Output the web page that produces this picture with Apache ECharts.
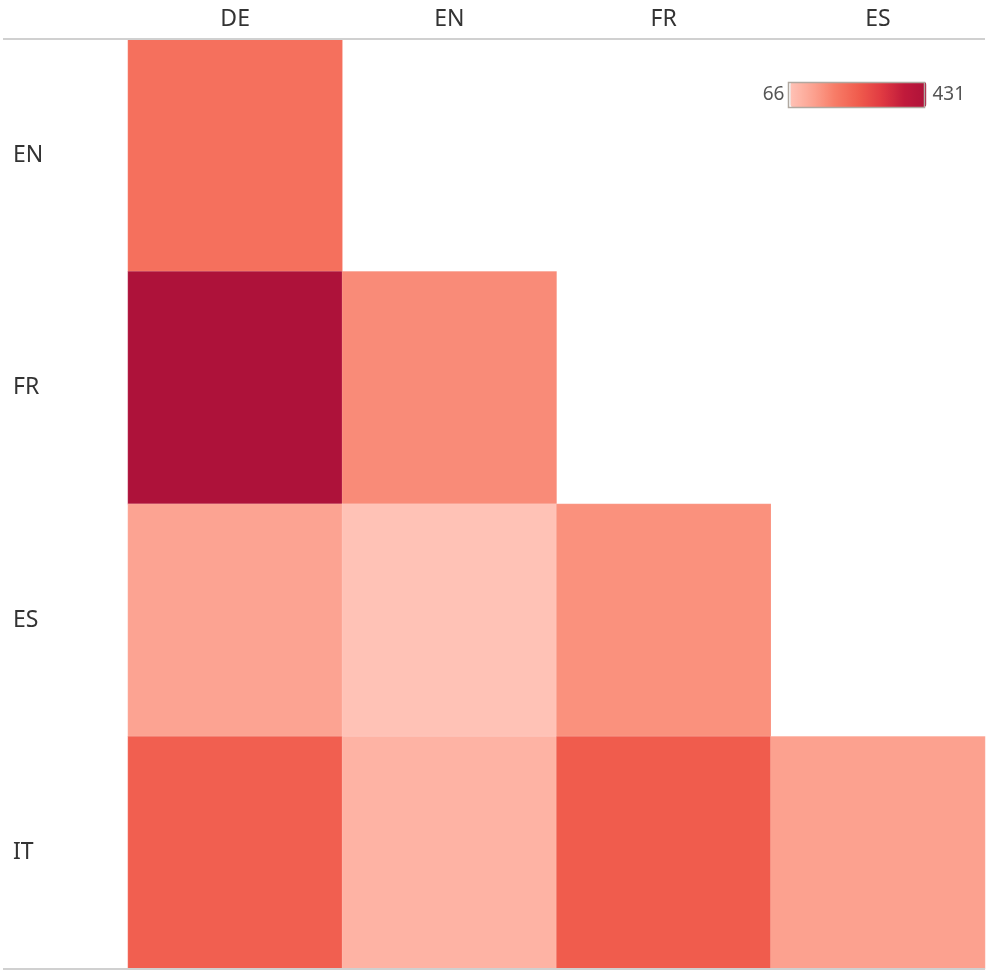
<!DOCTYPE html>
<html>
<head>
<meta charset="utf-8">
<script src="https://cdn.jsdelivr.net/npm/echarts@6/dist/echarts.min.js"></script>
<style>
  html, body { margin: 0; padding: 0; background: #fff; }
  #chart { width: 986px; height: 973px; }
</style>
</head>
<body>
<div id="chart"></div>
<script>
// columns (top) and rows (left)
const colLangs = ['DE', 'EN', 'FR', 'ES']
const rowLangs = ['EN', 'FR', 'ES', 'IT']

// one array per row, values per column (null = empty cell)
const rowEN = [209, null, null, null]
const rowFR = [431, 162, null, null]
const rowES = [124, 66, 154, null]
const rowIT = [242, 95, 248, 128]

const minVal = 66
const maxVal = 431

const rows = [rowEN, rowFR, rowES, rowIT]
const cells = []
rows.forEach((row, y) => {
    row.forEach((v, x) => {
        if (v !== null) cells.push([x, y, v])
    })
})

const chart = echarts.init(document.getElementById('chart'))

const font = '"Noto Sans", sans-serif'

const option = {
    animation: false,
    grid: { left: 128, right: 1, top: 39, bottom: 4 },
    xAxis: {
        type: 'category',
        position: 'top',
        data: colLangs,
        axisLine: { show: false },
        axisTick: { show: false },
        splitLine: { show: false },
        axisLabel: { color: '#333', fontSize: 23, fontFamily: font, margin: 8 }
    },
    yAxis: {
        type: 'category',
        inverse: true,
        data: rowLangs,
        axisLine: { show: false },
        axisTick: { show: false },
        splitLine: { show: false },
        axisLabel: { color: '#333', fontSize: 23, fontFamily: font, align: 'left', margin: 115 }
    },
    visualMap: {
        type: 'continuous',
        min: minVal,
        max: maxVal,
        orient: 'horizontal',
        calculable: false,
        right: 21,
        top: 82,
        padding: 0,
        itemWidth: 25,
        itemHeight: 136,
        text: [String(maxVal), String(minVal)],
        textGap: 6,
        textStyle: { color: '#555', fontSize: 19, fontFamily: font },
        inRange: {
            color: ['#ffc2b6', '#fca290', '#f77b66', '#f05c4d', '#e13b42', '#c11a3b', '#ae123a']
        }
    },
    graphic: [
        { type: 'line', shape: { x1: 3, y1: 39, x2: 985, y2: 39 }, style: { stroke: '#d0d0d0', lineWidth: 2 }, z: 10 },
        { type: 'line', shape: { x1: 3, y1: 969, x2: 985, y2: 969 }, style: { stroke: '#d0d0d0', lineWidth: 2 }, z: 10 },
        // frame around the colour bar
        { type: 'rect', shape: { x: 788.5, y: 82.5, width: 136, height: 25 }, style: { fill: null, stroke: '#b0a8a0', lineWidth: 1.5 }, z: 20 }
    ],
    series: [{
        type: 'heatmap',
        data: cells,
        itemStyle: { borderColor: 'rgba(255,255,255,0.25)', borderWidth: 0.5 },
        emphasis: { disabled: true }
    }]
}

chart.setOption(option)
</script>
</body>
</html>
